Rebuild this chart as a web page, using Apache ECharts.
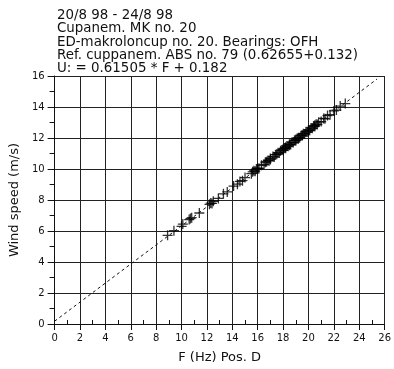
<!DOCTYPE html>
<html>
<head>
<meta charset="utf-8">
<script src="https://cdn.jsdelivr.net/npm/echarts@6/dist/echarts.min.js"></script>
<style>
  html, body { margin: 0; padding: 0; background: #fff; }
  #chart { width: 394px; height: 369px; }
</style>
</head>
<body>
<div id="chart"></div>
<script>
// Calibration run: frequency F (Hz) vs. reference wind speed U (m/s)
const headerLines = [
  '20/8 98 - 24/8 98',
  'Cupanem. MK no. 20',
  'ED-makroloncup no. 20. Bearings: OFH',
  'Ref. cuppanem. ABS no. 79 (0.62655+0.132)',
  'U: = 0.61505 * F + 0.182'
];
const fitSlope = 0.61505;
const fitOffset = 0.182;
const fitRangeF = [0, 25.4];

const freqF = [
  8.9, 9.4, 10.0, 10.1, 10.6, 10.7, 10.8, 11.4, 12.2, 12.3,
  12.4, 12.5, 12.9, 13.3, 13.6, 14.1, 14.4, 14.6, 14.8, 15.0,
  15.5, 15.6, 15.7, 15.8, 15.9, 16.0, 16.1, 16.3, 16.5, 16.6,
  16.8, 16.9, 17.0, 17.2, 17.3, 17.4, 17.6, 17.7, 17.8, 17.9,
  18.0, 18.1, 18.2, 18.3, 18.4, 18.5, 18.6, 18.7, 18.8, 18.9,
  19.0, 19.1, 19.2, 19.3, 19.4, 19.5, 19.6, 19.7, 19.8, 19.9,
  20.0, 20.1, 20.2, 20.3, 20.4, 20.5, 20.6, 20.7, 20.8, 21.0,
  21.2, 21.3, 21.5, 21.7, 22.0, 22.2, 22.5, 22.9,
  16.0, 17.0, 18.0, 18.5, 19.0, 19.5, 20.0, 20.5, 19.2, 18.2,
  17.5, 16.7
];
const windU = [
  5.72, 6.02, 6.30, 6.45, 6.74, 6.80, 6.86, 7.16, 7.72, 7.80,
  7.78, 7.92, 8.10, 8.40, 8.52, 8.90, 9.02, 9.20, 9.25, 9.45,
  9.70, 9.82, 9.88, 9.86, 10.00, 10.05, 10.04, 10.24, 10.30, 10.44,
  10.55, 10.54, 10.68, 10.80, 10.78, 10.92, 11.05, 11.03, 11.17, 11.22,
  11.21, 11.35, 11.34, 11.48, 11.47, 11.60, 11.58, 11.72, 11.71, 11.85,
  11.83, 11.97, 12.02, 12.01, 12.15, 12.14, 12.28, 12.26, 12.40, 12.38,
  12.52, 12.50, 12.65, 12.63, 12.77, 12.75, 12.89, 12.87, 13.02, 13.06,
  13.26, 13.24, 13.45, 13.50, 13.75, 13.80, 14.06, 14.22,
  10.00, 10.62, 11.28, 11.54, 11.90, 12.20, 12.45, 12.82, 11.95, 11.40,
  10.95, 10.46
];

const xTicks = { min: 0, max: 26, interval: 2 };
const yTicks = { min: 0, max: 16, interval: 2 };

const points = freqF.map((f, i) => [f, windU[i]]);
const fitLine = fitRangeF.map(f => [f, fitSlope * f + fitOffset]);

const font = 'DejaVu Sans';
const ink = '#111';

const chart = echarts.init(document.getElementById('chart'), null, { renderer: 'canvas' });

const gridPos = { left: 51, right: 7, top: 76, bottom: 42 };

chart.setOption({
  animation: false,
  backgroundColor: '#fff',
  title: {
    text: headerLines.join('\n'),
    left: 52,
    top: 4,
    textStyle: {
      fontFamily: font,
      fontSize: 13.4,
      fontWeight: 'normal',
      color: ink,
      lineHeight: 13.3
    }
  },
  grid: Object.assign({ containLabel: false }, gridPos),
  xAxis: [
    {
      type: 'value',
      min: xTicks.min, max: xTicks.max, interval: xTicks.interval,
      name: 'F (Hz) Pos. D',
      nameLocation: 'middle',
      nameGap: 27,
      nameTextStyle: { fontFamily: font, fontSize: 13, color: ink },
      axisLine: { show: true, onZero: false, lineStyle: { color: ink, width: 1 } },
      axisTick: { show: true, inside: false, length: 6, lineStyle: { color: ink } },
      axisLabel: { fontFamily: font, fontSize: 10, color: ink, margin: 9 },
      splitLine: { show: true, lineStyle: { color: '#222', width: 1 } }
    },
    {
      type: 'value',
      position: 'bottom',
      min: xTicks.min, max: xTicks.max, interval: xTicks.interval,
      axisLine: { show: false },
      axisTick: { show: false, inside: true },
      axisLabel: { show: false },
      splitLine: { show: false },
      minorTick: { show: true, splitNumber: 2, length: 4, lineStyle: { color: ink, width: 1 } }
    }
  ],
  yAxis: {
    type: 'value',
    min: yTicks.min, max: yTicks.max, interval: yTicks.interval,
    name: 'Wind speed (m/s)',
    nameLocation: 'middle',
    nameGap: 32,
    nameTextStyle: { fontFamily: font, fontSize: 13, color: ink },
    axisLine: { show: true, onZero: false, lineStyle: { color: ink, width: 1 } },
    axisTick: { show: true, inside: false, length: 7, lineStyle: { color: ink } },
    minorTick: { show: true, splitNumber: 2, length: 5, lineStyle: { color: ink, width: 1 } },
    axisLabel: { fontFamily: font, fontSize: 10, color: ink, margin: 10 },
    splitLine: { show: true, lineStyle: { color: '#222', width: 1 } }
  },
  series: [
    {
      type: 'line',
      data: fitLine,
      symbol: 'none',
      lineStyle: { color: ink, width: 1, type: [3, 3] },
      silent: true,
      z: 2
    },
    {
      type: 'scatter',
      data: points,
      symbol: 'path://M0,5L10,5M5,0L5,10',
      symbolSize: 10,
      symbolKeepAspect: true,
      itemStyle: { color: 'rgba(0,0,0,0)', borderColor: '#000', borderWidth: 1.3 },
      z: 3
    }
  ]
});
</script>
</body>
</html>
